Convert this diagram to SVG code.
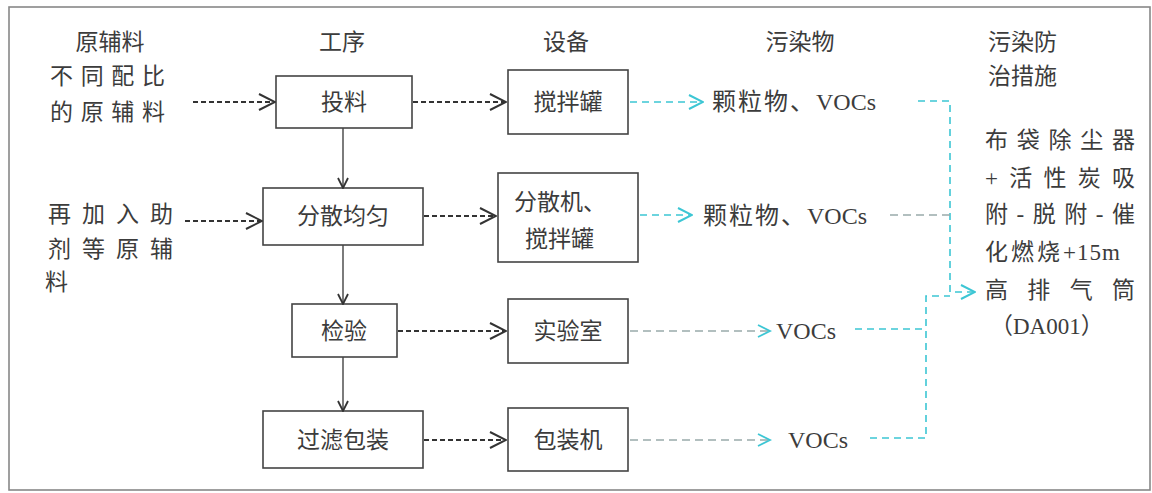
<svg xmlns="http://www.w3.org/2000/svg" width="1152" height="493" viewBox="0 0 1152 493">
<defs>
<style>
text{font-family:"Liberation Serif","Noto Sans CJK SC",serif;font-size:23px;fill:#3c3c3c;}
.c{text-anchor:middle;}
.p{font-size:24px;}
.box{fill:#fff;stroke:#444;stroke-width:1.6;}
.solid{fill:none;stroke:#444;stroke-width:1.4;}
.dash{fill:none;stroke:#333;stroke-width:2;stroke-dasharray:5 3;}
.cyan{fill:none;stroke:#3cc6d4;stroke-width:1.6;stroke-dasharray:7 5;}
.gdash{fill:none;stroke:#9aa;stroke-width:1.3;stroke-dasharray:8 5;}
</style>
<marker id="ab" viewBox="0 0 12 12" refX="11" refY="6" markerWidth="12" markerHeight="12" markerUnits="userSpaceOnUse" orient="auto">
<path d="M1,1 L11,6 L1,11" fill="none" stroke="#333" stroke-width="1.8"/>
</marker>
<marker id="ak" viewBox="0 0 18 18" refX="17" refY="9" markerWidth="18" markerHeight="18" markerUnits="userSpaceOnUse" orient="auto">
<path d="M1,1 L17,9 L1,17" fill="none" stroke="#333" stroke-width="2"/>
</marker>
<marker id="ac" viewBox="0 0 16 16" refX="15" refY="8" markerWidth="16" markerHeight="16" markerUnits="userSpaceOnUse" orient="auto">
<path d="M1,1 L15,8 L1,15" fill="none" stroke="#3cc6d4" stroke-width="2"/>
</marker>
</defs>
<rect x="0" y="0" width="1152" height="493" fill="#fff"/>
<rect x="9" y="7" width="1141" height="483" fill="none" stroke="#888" stroke-width="1.6"/>

<g id="headers">
<text class="c" x="110" y="50">原辅料</text>
<text class="c" x="342" y="50">工序</text>
<text class="c" x="566" y="50">设备</text>
<text class="c" x="800" y="50">污染物</text>
<text x="988" y="50">污染防</text>
<text x="988" y="84">治措施</text>
</g>

<g id="inputs">
<text x="50" y="84" textLength="115" lengthAdjust="spacing">不同配比</text>
<text x="50" y="120" textLength="115" lengthAdjust="spacing">的原辅料</text>
<text x="48" y="222" textLength="125" lengthAdjust="spacing">再加入助</text>
<text x="48" y="257" textLength="125" lengthAdjust="spacing">剂等原辅</text>
<text x="45" y="290">料</text>
</g>

<g id="node-tl"><rect class="box" x="276" y="76" width="136" height="52"/><text class="c" x="344" y="110">投料</text></g>
<g id="node-fs"><rect class="box" x="263" y="188" width="160" height="57"/><text class="c" x="343" y="224">分散均匀</text></g>
<g id="node-jy"><rect class="box" x="292" y="304" width="105" height="53"/><text class="c" x="344" y="339">检验</text></g>
<g id="node-gl"><rect class="box" x="263" y="411" width="160" height="57"/><text class="c" x="343" y="448">过滤包装</text></g>

<g id="eq-jbg"><rect class="box" x="508" y="70" width="120" height="64"/><text class="c" x="568" y="110">搅拌罐</text></g>
<g id="eq-fsj"><rect class="box" x="498" y="173" width="140" height="89"/><text x="514" y="210">分散机、</text><text x="525" y="247">搅拌罐</text></g>
<g id="eq-sys"><rect class="box" x="508" y="299" width="120" height="64"/><text class="c" x="568" y="339">实验室</text></g>
<g id="eq-bzj"><rect class="box" x="508" y="408" width="120" height="63"/><text class="c" x="568" y="448">包装机</text></g>

<g id="pollutants">
<text class="p" x="712" y="110"><tspan letter-spacing="2">颗粒物、</tspan><tspan>VOCs</tspan></text>
<text class="p" x="703" y="224"><tspan letter-spacing="2">颗粒物、</tspan><tspan>VOCs</tspan></text>
<text class="p" x="776" y="339">VOCs</text>
<text class="p" x="788" y="448">VOCs</text>
</g>

<g id="measures">
<text x="985" y="148" textLength="150" lengthAdjust="spacing">布袋除尘器</text>
<text x="985" y="186" textLength="150" lengthAdjust="spacing">+活性炭吸</text>
<text x="985" y="222" textLength="150" lengthAdjust="spacing">附-脱附-催</text>
<text x="985" y="260" font-size="24"><tspan letter-spacing="3">化燃烧</tspan><tspan letter-spacing="1">+15m</tspan></text>
<text x="985" y="298" textLength="150" lengthAdjust="spacing">高排气筒</text>
<text x="990" y="334">（DA001）</text>
</g>

<g id="connectors">
<line class="solid" x1="343" y1="128" x2="343" y2="188" marker-end="url(#ab)"/>
<line class="solid" x1="343" y1="245" x2="343" y2="304" marker-end="url(#ab)"/>
<line class="solid" x1="343" y1="357" x2="343" y2="411" marker-end="url(#ab)"/>
<line class="dash" x1="193" y1="102" x2="275" y2="102" marker-end="url(#ak)"/>
<line class="dash" x1="185" y1="221" x2="262" y2="221" marker-end="url(#ak)"/>
<line class="dash" x1="413" y1="102" x2="506" y2="102" marker-end="url(#ak)"/>
<line class="dash" x1="424" y1="216" x2="496" y2="216" marker-end="url(#ak)"/>
<line class="dash" x1="398" y1="331" x2="506" y2="331" marker-end="url(#ak)"/>
<line class="dash" x1="424" y1="440" x2="506" y2="440" marker-end="url(#ak)"/>
<line class="cyan" x1="630" y1="102" x2="703" y2="102" marker-end="url(#ac)"/>
<line class="cyan" x1="640" y1="215" x2="692" y2="215" marker-end="url(#ac)"/>
<line class="gdash" x1="630" y1="331" x2="770" y2="331"/>
<path d="M758,325 L770,331 L758,337" fill="none" stroke="#3cc6d4" stroke-width="1.8"/>
<line class="gdash" x1="630" y1="440" x2="770" y2="440"/>
<path d="M758,434 L770,440 L758,446" fill="none" stroke="#3cc6d4" stroke-width="1.8"/>
<polyline class="cyan" points="918,101 950,101 950,292 975,292" marker-end="url(#ac)"/>
<line class="gdash" x1="890" y1="215" x2="950" y2="215"/>
<polyline class="cyan" points="855,329 926,329"/>
<polyline class="cyan" points="870,438 926,438 926,296 950,296"/>
</g>
</svg>
